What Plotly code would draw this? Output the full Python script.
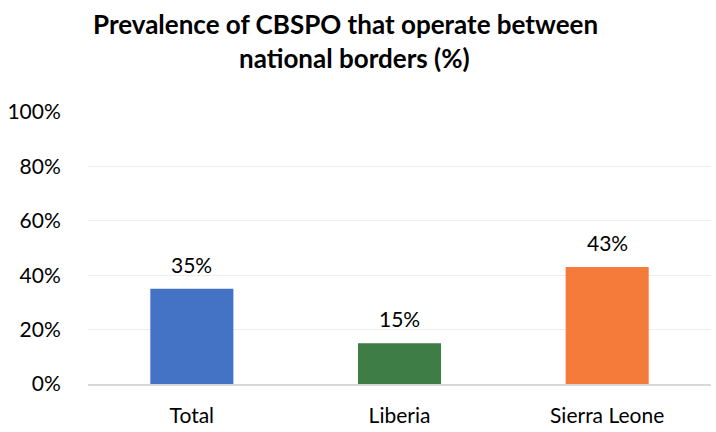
import plotly.graph_objects as go

# Share of CBSPO operating across national borders, by area
categories = ["Total", "Liberia", "Sierra Leone"]
values = [35, 15, 43]
colors = ["#4472C4", "#3E7D46", "#F47B3A"]
y_ticks = [0, 20, 40, 60, 80, 100]
y_tick_labels = ["0%", "20%", "40%", "60%", "80%", "100%"]
title_lines = ["Prevalence of CBSPO that operate between", "national borders (%)"]

FONT = "Lato"
W, H = 716, 432
M_L, M_R, M_T, M_B = 88, 5, 112, 44
PLOT_H = H - M_T - M_B

fig = go.Figure(
    go.Bar(
        x=categories,
        y=values,
        marker=dict(color=colors, line=dict(width=0)),
        width=0.4,
        hoverinfo="skip",
    )
)

# value labels above each bar
for cat, val in zip(categories, values):
    fig.add_annotation(
        x=cat, y=val, text=f"{val}%", showarrow=False,
        yanchor="bottom", yshift=10,
        font=dict(family=FONT, size=21, color="#000000"),
    )

# two-line bold title
for line, x_px, y_px in zip(title_lines, [345, 354], [23, 57]):
    fig.add_annotation(
        text=f"<b>{line}</b>", showarrow=False,
        xref="paper", yref="paper",
        x=(x_px - M_L) / (W - M_L - M_R), xanchor="center",
        y=1 + (M_T - y_px) / PLOT_H, yanchor="middle",
        font=dict(family=FONT, size=26, color="#000000"),
    )

fig.update_layout(
    width=W,
    height=H,
    margin=dict(l=M_L, r=M_R, t=M_T, b=M_B),
    paper_bgcolor="white",
    plot_bgcolor="white",
    showlegend=False,
    xaxis=dict(
        showgrid=False,
        showline=True,
        linecolor="#D9D9D9",
        linewidth=1.5,
        ticks="outside",
        ticklen=12,
        tickcolor="rgba(0,0,0,0)",
        tickfont=dict(family=FONT, size=21, color="#000000"),
        fixedrange=True,
    ),
    yaxis=dict(
        range=[0, 100],
        tickvals=y_ticks,
        ticktext=y_tick_labels,
        showgrid=True,
        gridcolor="#EDEDED",
        gridwidth=1,
        zeroline=False,
        showline=False,
        ticks="outside",
        ticklen=22,
        tickcolor="rgba(0,0,0,0)",
        tickfont=dict(family=FONT, size=21, color="#000000"),
        fixedrange=True,
    ),
)

fig.write_html("out.html")
